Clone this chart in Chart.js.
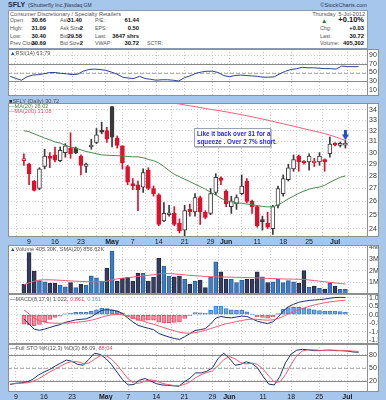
<!DOCTYPE html>
<html>
<head>
<meta charset="utf-8">
<script src="https://cdn.jsdelivr.net/npm/chart.js"></script>
<style>
html,body{margin:0;padding:0;background:#a7c6ec;}
#page{position:relative;width:386px;height:400px;background:#a7c6ec;overflow:hidden;font-family:'Liberation Sans',Arial,sans-serif;}
#page canvas{position:absolute;left:0;}
.t{position:absolute;font-size:5.3px;line-height:7px;white-space:nowrap;color:#555;}
.v{position:absolute;font-size:5.8px;line-height:7px;white-space:nowrap;color:#111;font-weight:bold;text-align:right;}
.lg{position:absolute;font-size:5.6px;line-height:6px;white-space:nowrap;color:#555;}
#hdr{position:absolute;left:8px;top:10px;width:358px;height:37px;background:#fff;border:1px solid #8c9cb4;}
#note{position:absolute;left:194px;top:128px;width:73px;height:16px;background:#fff;border:1px solid #9aa4b0;box-shadow:1px 1px 0 #c4c4c4;color:#2a2ae0;font-weight:bold;font-size:6.3px;line-height:8px;padding:1px 0 0 2px;white-space:nowrap;}
</style>
</head>
<body>
<div id="page">
  <span class="t" style="left:8px;top:1px;font-size:7px;line-height:8px;font-weight:bold;color:#1c2a44">SFLY</span>
  <span class="t" style="left:28px;top:1.5px;font-size:5.6px;color:#2a3550">(Shutterfly Inc.)</span>
  <span class="t" style="left:65px;top:2px;font-size:5px;color:#2a3550">Nasdaq GM</span>
  <span class="t" style="right:19px;top:1.5px;font-size:5.6px;color:#2a3550">&copy;StockCharts.com</span>

  <div id="hdr"></div>
  <span class="t" style="left:10px;top:10.5px;font-size:5.6px">Consumer Discretionary / Specialty Retailers</span>
  <span class="t" style="right:21px;top:10.5px;font-size:5.6px">Thursday&nbsp;&nbsp;5-Jul-2012</span>

  <span class="t" style="left:10px;top:17.2px">Open:</span><span class="v" style="right:340px;top:17.2px">30.66</span>
  <span class="t" style="left:60px;top:17.2px">Ask:</span><span class="v" style="right:304px;top:17.2px">31.40</span>
  <span class="t" style="left:95px;top:17.2px">P/E:</span><span class="v" style="right:247px;top:17.2px">61.44</span>

  <span class="t" style="left:10px;top:25px">High:</span><span class="v" style="right:340px;top:25px">31.09</span>
  <span class="t" style="left:60px;top:25px">Ask Size:</span><span class="v" style="right:303px;top:25px">2</span>
  <span class="t" style="left:95px;top:25px">EPS:</span><span class="v" style="right:247px;top:25px">0.50</span>

  <span class="t" style="left:10px;top:32.7px">Low:</span><span class="v" style="right:340px;top:32.7px">30.40</span>
  <span class="t" style="left:60px;top:32.7px">Bid:</span><span class="v" style="right:304px;top:32.7px">29.58</span>
  <span class="t" style="left:95px;top:32.7px">Last:</span><span class="v" style="right:247px;top:32.7px">3647 shrs</span>

  <span class="t" style="left:10px;top:40.4px">Prev Close:</span><span class="v" style="right:340px;top:40.4px">30.69</span>
  <span class="t" style="left:60px;top:40.4px">Bid Size:</span><span class="v" style="right:303px;top:40.4px">2</span>
  <span class="t" style="left:95px;top:40.4px">VWAP:</span><span class="v" style="right:247px;top:40.4px">30.72</span>
  <span class="t" style="left:147px;top:40.4px">SCTR:</span>

  <span class="t" style="left:321px;top:16.5px;color:#1d7a2a;font-size:6.5px">&#9650;</span>
  <span class="v" style="right:22px;top:16px;font-size:7.5px;line-height:8px">+0.10%</span>
  <span class="t" style="left:320px;top:25px">Chg:</span><span class="v" style="right:22px;top:25px">+0.03</span>
  <span class="t" style="left:320px;top:32.7px">Last:</span><span class="v" style="right:22px;top:32.7px">30.72</span>
  <span class="t" style="left:320px;top:40.4px">Volume:</span><span class="v" style="right:22px;top:40.4px">405,302</span>

  <canvas id="rsiC" width="386" height="47" style="top:49px"></canvas>
  <canvas id="priceC" width="386" height="148" style="top:97px"></canvas>
  <canvas id="volC" width="386" height="49" style="top:245px"></canvas>
  <canvas id="macdC" width="386" height="50" style="top:294px"></canvas>
  <canvas id="stoC" width="386" height="56" style="top:344px"></canvas>

  <span class="lg" style="left:10px;top:49.5px"><span style="color:#2b4a9a">&#9650;</span>RSI(14) 63.79</span>
  <span class="lg" style="left:9px;top:98px"><span style="color:#333">&#9632;</span>SFLY (Daily) 30.72</span>
  <span class="lg" style="left:9px;top:102.8px;color:#4d8a4d">&mdash;MA(20) 28.02</span>
  <span class="lg" style="left:9px;top:107.6px;color:#e8506a">&mdash;MA(200) 31.08</span>
  <span class="lg" style="left:10px;top:246px"><span style="color:#2b4a9a">&#9650;</span>Volume 405.30K, SMA(20) 856.62K</span>
  <span class="lg" style="left:10px;top:295.5px"><span style="color:#1f2f6f">&mdash;</span>MACD(8,17,9) 1.022, <span style="color:#e8506a">0.861</span>, <span style="color:#5e9de6">0.161</span></span>
  <span class="lg" style="left:10px;top:345px"><span style="color:#1f2f6f">&mdash;</span>Full STO %K(12,3) %D(3) 86.09, <span style="color:#e8506a">88.04</span></span>

  <div id="note">Like it back over 31 for a<br>squeeze . Over 2 7% short.</div>
</div>

<script>
// x axis: trading days Apr 5 .. Jul 5 2012, labels at these day indices
const tickIdx = [1, 6, 11, 17, 21, 26, 31, 36, 39, 45, 50, 55, 60];
const tickLabels = ['9', '16', '23', 'May', '7', '14', '21', '29', 'Jun', '11', '18', '25', 'Jul'];
const monthIdx = [17, 39, 60];

// price (OHLC)
const closeBeforeFirst = 29.6;
const open = [29.3,29.0,27.6,27.0,28.8,29.6,29.8,29.3,30.0,30.4, 30.4,29.7,28.8,30.5,30.9,32.0,32.0,34.35,31.3,30.6, 28.8,27.4,27.3,27.1,28.5,27.0,26.5,24.55,25.0,25.1, 24.4,23.9,25.4,25.2,26.3,25.2,25.1,26.7,27.85,26.8, 25.6,25.8,26.6,27.6,26.0,25.6,24.6,24.4,24.0,25.7, 26.6,27.7,28.6,29.7,29.25,29.2,29.1,29.2,29.4,29.9, 30.8,30.65,30.66];
const high = [29.9,29.1,27.65,28.7,30.3,30.0,30.5,30.5,30.8,31.8, 30.5,29.8,29.1,31.2,32.2,32.8,32.3,34.35,31.5,30.6, 28.9,27.8,27.6,28.6,28.7,27.2,26.6,25.9,25.7,25.6, 24.7,25.7,25.8,26.6,26.4,25.3,27.0,28.2,27.95,26.9, 26.4,26.5,28.1,27.8,26.1,25.7,24.9,25.2,25.7,27.2, 28.1,29.0,29.8,29.8,29.3,29.9,29.5,30.0,29.45,31.4, 30.9,30.95,31.09];
const low = [28.9,27.3,26.8,26.9,28.6,28.7,29.2,29.2,29.6,29.5, 29.9,28.1,28.3,30.3,30.8,31.7,30.9,30.5,30.4,28.6, 27.3,26.9,25.3,26.7,26.9,26.4,24.2,24.5,24.9,24.2, 23.7,23.5,24.9,24.9,24.3,24.7,25.0,26.5,27.3,25.6, 25.1,25.4,26.5,25.9,25.1,24.1,23.9,24.0,23.6,25.5, 26.4,27.6,28.4,28.4,29.0,28.5,28.8,28.9,28.4,29.6, 30.6,30.5,30.40];
const close = [29.4,28.2,26.85,28.6,29.7,29.5,29.35,30.2,30.6,29.9, 30.0,28.9,29.0,30.6,31.6,31.85,31.2,31.4,30.65,29.1, 27.5,27.2,26.9,28.3,27.0,26.6,24.3,25.1,25.15,24.3, 23.85,25.3,25.2,26.3,25.2,24.8,26.6,27.9,27.65,25.8, 26.05,26.3,27.2,26.0,25.6,24.2,24.5,24.1,25.6,27.0, 27.8,28.7,29.4,29.2,29.1,29.7,29.25,29.7,29.2,30.75, 30.68,30.69,30.72];
const ma20 = [32.0,31.9,31.7,31.5,31.3,31.15,30.95,30.85,30.65,30.5, 30.4,30.25,30.1,30.0,29.9,29.8,29.77,29.75,29.73,29.7, 29.66,29.63,29.63,29.55,29.4,29.3,29.1,28.8,28.45,28.15, 27.95,27.75,27.55,27.35,27.15,26.95,26.7,26.5,26.25,26.05, 25.95,25.9,25.85,25.8,25.75,25.68,25.62,25.58,25.6,25.72, 25.95,26.2,26.4,26.62,26.8,26.95,27.05,27.12,27.25,27.5, 27.7,27.9,28.02];
// MA(200) is above the panel top before day 28
const ma200 = Array(28).fill(null).concat([34.85,34.68,34.6,34.5,34.42,34.33,34.24,34.15,34.06,33.98, 33.9,33.81,33.72,33.62,33.53,33.43,33.32,33.21,33.1,32.99, 32.88,32.76,32.65,32.53,32.42,32.3,32.18,32.07,31.95,31.84, 31.72,31.58,31.43,31.26,31.08]);
const priceTicks = [24, 25, 26, 27, 28, 29, 30, 31, 32, 33, 34];

// volume, millions
const volM = [0.83,3.56,1.97,1.14,1.05,0.91,0.91,0.77,0.62,0.97, 0.54,0.83,0.77,1.56,1.39,1.11,2.2,3.68,1.11,1.37, 1.43,1.11,1.77,1.77,1.11,1.43,3.05,2.39,1.54,1.48, 1.54,1.25,0.85,1.11,1.2,0.54,1.43,2.76,1.9,1.25, 1.25,0.97,1.2,1.25,1.25,1.9,1.48,0.97,1.05,1.25, 0.97,1.14,1.05,0.91,2.0,0.57,0.68,0.49,0.43,0.91, 0.68,0.4,0.405];
const volSma = [0.8,0.95,1.1,1.2,1.22,1.22,1.2,1.18,1.15,1.12, 1.1,1.08,1.06,1.05,1.05,1.05,1.1,1.22,1.3,1.35, 1.4,1.45,1.5,1.55,1.6,1.65,1.72,1.75,1.75,1.72, 1.68,1.64,1.6,1.56,1.54,1.5,1.48,1.47,1.46,1.45, 1.44,1.43,1.42,1.41,1.4,1.38,1.36,1.34,1.32,1.3, 1.29,1.28,1.27,1.26,1.25,1.2,1.15,1.1,1.05,1.0, 0.95,0.9,0.857];
const volTicks = [1, 2, 3, 4];

// RSI(14)
const rsi = [41,36,32,40,44,45,47,50,50,48, 47,45,46,53,57,58,57,55,51,46, 39,37,36,41,36,34,32,33,33,32, 30,38,42,48,51,53,53,50,43,40, 43,44,43,42,41,39,39,40,47,53, 57,59,62,61,61,60,59,59,58,65, 64,63.5,63.79];
const rsiTicks = [10, 30, 50, 70, 90];

// MACD(8,17,9)
const macd = [-0.25,-0.55,-0.85,-0.92,-0.85,-0.75,-0.66,-0.58,-0.45,-0.38, -0.3,-0.27,-0.24,-0.12,0.08,0.26,0.3,0.28,0.22,0.08, -0.18,-0.42,-0.62,-0.72,-0.8,-0.88,-1.1,-1.22,-1.32,-1.4, -1.46,-1.3,-1.12,-0.93,-0.88,-0.82,-0.55,-0.2,-0.1,-0.16, -0.18,-0.13,-0.08,-0.1,-0.24,-0.38,-0.46,-0.52,-0.42,-0.15, 0.22,0.48,0.62,0.74,0.8,0.85,0.87,0.9,0.93,0.98, 1.02,1.03,1.022];
const signal = [0.3,0.05,-0.2,-0.35,-0.44,-0.48,-0.5,-0.5,-0.5,-0.48, -0.45,-0.42,-0.38,-0.32,-0.24,-0.14,-0.06,0.0,0.02,0.0, -0.08,-0.18,-0.28,-0.38,-0.48,-0.56,-0.66,-0.76,-0.86,-0.95, -1.03,-1.08,-1.1,-1.06,-1.0,-0.92,-0.82,-0.72,-0.62,-0.53, -0.47,-0.4,-0.34,-0.28,-0.26,-0.27,-0.3,-0.32,-0.3,-0.22, -0.1,0.05,0.18,0.3,0.4,0.5,0.58,0.65,0.71,0.76, 0.8,0.84,0.861];
const hist = [-0.55,-0.6,-0.65,-0.57,-0.41,-0.27,-0.16,-0.08,0.05,0.1, 0.15,0.15,0.14,0.2,0.3,0.38,0.36,0.28,0.2,0.08, -0.1,-0.24,-0.34,-0.34,-0.32,-0.32,-0.44,-0.46,-0.46,-0.45, -0.43,-0.22,-0.05,0.13,0.12,0.1,0.27,0.52,0.52,0.37, 0.29,0.27,0.26,0.18,0.02,-0.11,-0.16,-0.2,-0.12,0.07, 0.32,0.43,0.44,0.44,0.4,0.35,0.29,0.25,0.22,0.22, 0.22,0.19,0.161];
const macdTicks = [-1.5, -1.0, -0.5, 0.0, 0.5, 1.0];

// Full STO %K(12,3) %D(3)
const stoK = [11,14,15,17,23,33,40,46,54,61, 68,65,58,56,70,84,81,72,58,40, 22,10,11,21,25,19,13,10,9,8, 7,17,26,38,38,42,50,72,84,72, 56,58,64,60,50,30,12,10,30,62, 82,91,93,92,90,90,91,91,90,90, 89,87,86.09];
const stoD = [12,13,14,15,18,24,32,40,47,54, 61,65,64,60,61,70,78,79,70,57, 40,24,14,14,19,22,19,14,11,9, 8,11,17,27,34,39,43,55,69,76, 71,62,59,61,58,47,31,17,17,34, 58,78,89,92,92,91,90,91,91,90, 90,89,88.04];
const stoTicks = [20, 50, 80];

// chart annotation: arrow above last bar
const arrowMark = {x: 62, y: 31.55};

const FONT = "'Liberation Sans', Arial, sans-serif";
Chart.defaults.font.family = FONT;
Chart.defaults.font.size = 7;
Chart.defaults.color = '#222';

const PANEL_RIGHT = 379;

const panelBg = {
    id: 'panelBg',
    beforeDraw(c) {
        const a = c.chartArea, g = c.ctx;
        g.save();
        g.fillStyle = '#fff';
        g.fillRect(a.left, a.top, PANEL_RIGHT - a.left, a.bottom - a.top);
        g.restore();
    }
};
const frame = {
    id: 'frame',
    afterDraw(c) {
        const a = c.chartArea, g = c.ctx;
        const l = Math.round(a.left) + 0.5, t = Math.round(a.top) + 0.5;
        const b = Math.round(a.bottom) - 0.5, r = Math.round(a.right) + 0.5;
        g.save();
        g.strokeStyle = '#8f8f8f';
        g.lineWidth = 1;
        g.strokeRect(l, t, PANEL_RIGHT - 0.5 - l, b - t);
        g.beginPath(); g.moveTo(r, t); g.lineTo(r, b); g.stroke();
        g.restore();
    }
};
const refLines = {
    id: 'refLines',
    beforeDatasetsDraw(c, args, opts) {
        if (!opts || !opts.lines) return;
        const a = c.chartArea, g = c.ctx, y = c.scales.y;
        g.save();
        opts.lines.forEach(function (ln) {
            const py = Math.round(y.getPixelForValue(ln.v)) + 0.5;
            g.strokeStyle = ln.color || '#999';
            g.lineWidth = 1;
            g.setLineDash(ln.dash || []);
            g.beginPath(); g.moveTo(a.left, py); g.lineTo(a.right, py); g.stroke();
        });
        g.restore();
    }
};
Chart.register(panelBg, frame, refLines);

const idx = close.map((c, i) => i);
const prevClose = close.map((c, i) => i ? close[i - 1] : closeBeforeFirst);
const isUp = close.map((c, i) => c >= prevClose[i]);
const candleColor = isUp.map(u => u ? '#3a3a3a' : '#e0102c');

function xAxis(showDates) {
    return {
        type: 'linear', min: -0.4, max: 63.5,
        afterBuildTicks: s => { s.ticks = tickIdx.map(v => ({value: v})); },
        ticks: {
            display: showDates, autoSkip: false, maxRotation: 0, padding: 1, color: '#1a1a1a',
            font: ctx => ({family: FONT, size: 7, weight: (ctx.tick && monthIdx.includes(ctx.tick.value)) ? 'bold' : 'normal'}),
            callback: v => tickLabels[tickIdx.indexOf(v)]
        },
        grid: {color: '#c9c9c9', drawTicks: false},
        border: {display: false, dash: [1, 2]},
        afterFit: s => { s.height = showDates ? 8 : 0; s.paddingLeft = 0; s.paddingRight = 0; }
    };
}

function yAxis(o) {
    return {
        type: o.type || 'linear', position: 'right', min: o.min, max: o.max,
        afterBuildTicks: s => { s.ticks = o.ticks.map(v => ({value: v})); },
        ticks: {padding: 2, color: '#333', autoSkip: false, font: {size: 7}, callback: o.fmt || (v => v)},
        grid: {color: '#d2d2d2', drawTicks: false},
        border: {display: false, dash: [1, 2]},
        afterFit: s => { s.width = 12; s.paddingTop = 0; s.paddingBottom = 0; }
    };
}

function options(y, showDates, plugins) {
    return {
        responsive: false, animation: false, devicePixelRatio: 1,
        layout: {padding: {left: 8, right: 7, top: 0, bottom: 0}},
        plugins: Object.assign({legend: {display: false}, tooltip: {enabled: false}}, plugins || {}),
        scales: {x: xAxis(showDates), y: y}
    };
}

function line(values, color) {
    return {
        type: 'line', data: idx.map(i => ({x: i, y: values[i]})),
        borderColor: color, borderWidth: 1, pointRadius: 0, tension: 0, order: 0
    };
}

// arrow marker
const arrowImg = document.createElement('canvas');
arrowImg.width = 7; arrowImg.height = 10;
(function () {
    const g = arrowImg.getContext('2d');
    g.fillStyle = '#1f4fd8';
    g.fillRect(2, 0, 3, 5);
    g.beginPath(); g.moveTo(0, 4); g.lineTo(7, 4); g.lineTo(3.5, 10); g.closePath(); g.fill();
})();

// RSI
new Chart(document.getElementById('rsiC'), {
    type: 'line',
    data: {datasets: [line(rsi, '#2b4590')]},
    options: options(yAxis({min: -5, max: 105, ticks: rsiTicks}), false, {
        refLines: {lines: [{v: 70, color: '#8a8a8a'}, {v: 50, color: '#b0b0b0', dash: [4, 2]}, {v: 30, color: '#8a8a8a'}]}
    })
});

// Price
new Chart(document.getElementById('priceC'), {
    type: 'bar',
    data: {
        datasets: [
            {
                type: 'bar', data: idx.map(i => ({x: i, y: [low[i], high[i]]})),
                backgroundColor: candleColor, barThickness: 1, grouped: false, order: 3
            },
            {
                type: 'bar', data: idx.map(i => ({x: i, y: [Math.min(open[i], close[i]), Math.max(open[i], close[i])]})),
                backgroundColor: idx.map(i => close[i] < open[i] ? candleColor[i] : '#fff'),
                borderColor: candleColor, borderWidth: 1, borderSkipped: false,
                barThickness: 4, minBarLength: 2, grouped: false, order: 2
            },
            line(ma20, '#4d8a4d'),
            line(ma200, '#f0607a'),
            {
                type: 'scatter', data: [arrowMark], pointStyle: arrowImg,
                pointRadius: 5, order: 0
            }
        ]
    },
    options: options(yAxis({type: 'logarithmic', min: 23.42, max: 34.7, ticks: priceTicks}), true)
});

// Volume
new Chart(document.getElementById('volC'), {
    type: 'bar',
    data: {
        datasets: [
            {
                type: 'bar', data: idx.map(i => ({x: i, y: volM[i]})),
                backgroundColor: isUp.map(u => u ? '#3f7cc0' : '#353d5e'),
                borderColor: isUp.map(u => u ? '#2d5f98' : '#242a44'),
                borderWidth: 1, borderSkipped: false, barThickness: 4, grouped: false, order: 2
            },
            line(volSma, '#ee5c72')
        ]
    },
    options: options(yAxis({min: 0, max: 4.2, ticks: volTicks, fmt: v => v + 'M'}), false)
});

// MACD
new Chart(document.getElementById('macdC'), {
    type: 'bar',
    data: {
        datasets: [
            {
                type: 'bar', data: idx.map(i => ({x: i, y: hist[i]})),
                backgroundColor: hist.map(h => h >= 0 ? '#6aa6ec' : '#f58a9c'),
                borderColor: hist.map(h => h >= 0 ? '#3f7dc8' : '#dc5670'),
                borderWidth: 1, borderSkipped: false, barThickness: 4, grouped: false, order: 2
            },
            line(signal, '#ee5c72'),
            line(macd, '#1f2f6f')
        ]
    },
    options: options(yAxis({min: -1.73, max: 1.23, ticks: macdTicks, fmt: v => v.toFixed(1)}), false)
});

// Full STO
new Chart(document.getElementById('stoC'), {
    type: 'line',
    data: {datasets: [line(stoD, '#ee5c72'), line(stoK, '#1f2f6f')]},
    options: options(yAxis({min: -6.5, max: 105.5, ticks: stoTicks}), true, {
        refLines: {lines: [{v: 80, color: '#8a8a8a'}, {v: 50, color: '#b0b0b0', dash: [4, 2]}, {v: 20, color: '#8a8a8a'}]}
    })
});
</script>
</body>
</html>
